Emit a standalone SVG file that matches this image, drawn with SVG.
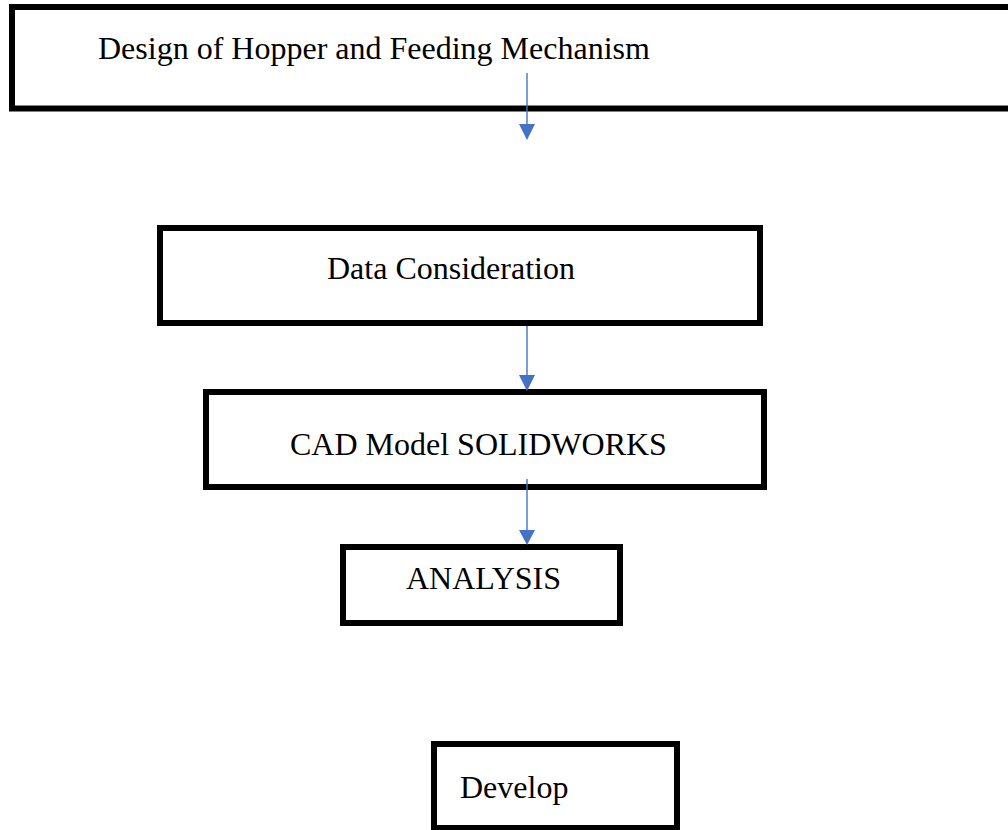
<svg xmlns="http://www.w3.org/2000/svg" width="1008" height="830" viewBox="0 0 1008 830">
<style>
.box{fill:#fff;stroke:#000;stroke-width:6}
.lbl{font-family:"Liberation Serif","Times New Roman",serif;font-size:32px;fill:#000}
.conn{stroke:#4472C4;stroke-width:1.4;fill:none}
.head{fill:#4472C4}
</style>
<rect width="1008" height="830" fill="#fff"/>
<g id="node-design">
<rect class="box" x="12" y="7" width="1003" height="101.5"/>
<text class="lbl" x="98" y="59">Design of Hopper and Feeding Mechanism</text>
</g>
<g id="node-data">
<rect class="box" x="160" y="228" width="600" height="95"/>
<text class="lbl" x="327" y="279">Data Consideration</text>
</g>
<g id="node-cad">
<rect class="box" x="206" y="392" width="558" height="95"/>
<text class="lbl" x="290" y="455">CAD Model SOLIDWORKS</text>
</g>
<g id="node-analysis">
<rect class="box" x="343" y="547" width="277" height="76"/>
<text class="lbl" x="406" y="589">ANALYSIS</text>
</g>
<g id="node-develop">
<rect class="box" x="434" y="744" width="243" height="84"/>
<text class="lbl" x="460" y="798">Develop</text>
</g>
<g id="connectors">
<line class="conn" x1="527" y1="73" x2="527" y2="125"/>
<polygon class="head" points="519,124 535,124 527,140"/>
<line class="conn" x1="527" y1="326" x2="527" y2="376"/>
<polygon class="head" points="519,375 535,375 527,391"/>
<line class="conn" x1="527" y1="479" x2="527" y2="531"/>
<polygon class="head" points="519,530 535,530 527,545"/>
</g>
</svg>
